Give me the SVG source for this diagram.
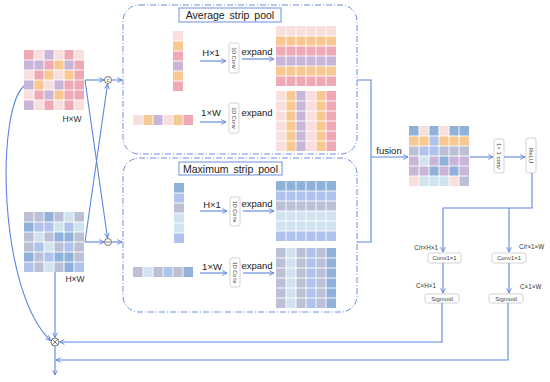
<svg xmlns="http://www.w3.org/2000/svg" xmlns:xlink="http://www.w3.org/1999/xlink" width="550" height="382" viewBox="0 0 550 382">
<style>
.p1{fill:#efa9b5}.p2{fill:#f9dede}.pu{fill:#c9b5d8}.or{fill:#f7c891}
.g{fill:#bcc0d6}.m{fill:#90b2da}.l{fill:#d0e4ef}.b{fill:#b0c3ec}
.wl{fill:none;stroke:#fff;stroke-width:0.9}
.cn{fill:none;stroke:#5b84e0;stroke-width:1.1}
.box{fill:none;stroke:#6b8fe0;stroke-width:1;stroke-dasharray:6 2 1 2}
.ttl{fill:#fff;stroke:#6b8fe0;stroke-width:1}
.sb{fill:#fff;stroke:#c8c8c8;stroke-width:0.8}
text{font-family:"Liberation Sans",Arial,sans-serif;fill:#222}
.t11{font-size:10.5px;word-spacing:2px;text-anchor:middle}
.t9{font-size:9.5px;text-anchor:middle}
.t8{font-size:8.5px;text-anchor:middle;fill:#333}
.t6{font-size:6px;text-anchor:middle;fill:#444}
.t65{font-size:6.3px;fill:#333}
.t55{font-size:5.5px;text-anchor:middle;fill:#444}
.op{fill:#fff;stroke:#555;stroke-width:0.8}
</style>
<defs>
<marker id="a" viewBox="0 0 10 10" refX="9" refY="5" markerWidth="6" markerHeight="6" orient="auto" markerUnits="userSpaceOnUse">
<path d="M1,1 L9,5 L1,9" fill="none" stroke="#5b84e0" stroke-width="1.5"/>
</marker>
<path id="gl" class="wl" d="M10,0V60M20,0V60M30,0V60M40,0V60M50,0V60M0,10H60M0,20H60M0,30H60M0,40H60M0,50H60"/>
<path id="vl" class="wl" d="M0,10H10M0,20H10M0,30H10M0,40H10M0,50H10"/>
<path id="hl" class="wl" d="M10,0V10M20,0V10M30,0V10M40,0V10M50,0V10"/>
</defs>

<g id="input-top" transform="translate(24,50)">
<rect x="0" y="0" width="10" height="10" class="p1"/><rect x="10" y="0" width="10" height="10" class="p2"/><rect x="20" y="0" width="10" height="10" class="pu"/><rect x="30" y="0" width="10" height="10" class="p2"/><rect x="40" y="0" width="10" height="10" class="p1"/><rect x="50" y="0" width="10" height="10" class="p2"/>
<rect x="0" y="10" width="10" height="10" class="pu"/><rect x="10" y="10" width="10" height="10" class="pu"/><rect x="20" y="10" width="10" height="10" class="p1"/><rect x="30" y="10" width="10" height="10" class="or"/><rect x="40" y="10" width="10" height="10" class="pu"/><rect x="50" y="10" width="10" height="10" class="p1"/>
<rect x="0" y="20" width="10" height="10" class="p2"/><rect x="10" y="20" width="10" height="10" class="p1"/><rect x="20" y="20" width="10" height="10" class="or"/><rect x="30" y="20" width="10" height="10" class="p2"/><rect x="40" y="20" width="10" height="10" class="or"/><rect x="50" y="20" width="10" height="10" class="p1"/>
<rect x="0" y="30" width="10" height="10" class="pu"/><rect x="10" y="30" width="10" height="10" class="or"/><rect x="20" y="30" width="10" height="10" class="p2"/><rect x="30" y="30" width="10" height="10" class="pu"/><rect x="40" y="30" width="10" height="10" class="p1"/><rect x="50" y="30" width="10" height="10" class="p1"/>
<rect x="0" y="40" width="10" height="10" class="p2"/><rect x="10" y="40" width="10" height="10" class="p1"/><rect x="20" y="40" width="10" height="10" class="pu"/><rect x="30" y="40" width="10" height="10" class="or"/><rect x="40" y="40" width="10" height="10" class="p1"/><rect x="50" y="40" width="10" height="10" class="p1"/>
<rect x="0" y="50" width="10" height="10" class="pu"/><rect x="10" y="50" width="10" height="10" class="p2"/><rect x="20" y="50" width="10" height="10" class="p1"/><rect x="30" y="50" width="10" height="10" class="p2"/><rect x="40" y="50" width="10" height="10" class="p1"/><rect x="50" y="50" width="10" height="10" class="p2"/>
<use href="#gl"/>
<text class="t8" x="48" y="72">H×W</text>
</g>

<g id="input-bottom" transform="translate(24,212)">
<rect x="0" y="0" width="10" height="10" class="g"/><rect x="10" y="0" width="10" height="10" class="g"/><rect x="20" y="0" width="10" height="10" class="m"/><rect x="30" y="0" width="10" height="10" class="g"/><rect x="40" y="0" width="10" height="10" class="l"/><rect x="50" y="0" width="10" height="10" class="g"/>
<rect x="0" y="10" width="10" height="10" class="m"/><rect x="10" y="10" width="10" height="10" class="b"/><rect x="20" y="10" width="10" height="10" class="b"/><rect x="30" y="10" width="10" height="10" class="l"/><rect x="40" y="10" width="10" height="10" class="b"/><rect x="50" y="10" width="10" height="10" class="l"/>
<rect x="0" y="20" width="10" height="10" class="g"/><rect x="10" y="20" width="10" height="10" class="l"/><rect x="20" y="20" width="10" height="10" class="g"/><rect x="30" y="20" width="10" height="10" class="m"/><rect x="40" y="20" width="10" height="10" class="m"/><rect x="50" y="20" width="10" height="10" class="g"/>
<rect x="0" y="30" width="10" height="10" class="g"/><rect x="10" y="30" width="10" height="10" class="b"/><rect x="20" y="30" width="10" height="10" class="l"/><rect x="30" y="30" width="10" height="10" class="g"/><rect x="40" y="30" width="10" height="10" class="b"/><rect x="50" y="30" width="10" height="10" class="g"/>
<rect x="0" y="40" width="10" height="10" class="m"/><rect x="10" y="40" width="10" height="10" class="g"/><rect x="20" y="40" width="10" height="10" class="b"/><rect x="30" y="40" width="10" height="10" class="m"/><rect x="40" y="40" width="10" height="10" class="m"/><rect x="50" y="40" width="10" height="10" class="g"/>
<rect x="0" y="50" width="10" height="10" class="b"/><rect x="10" y="50" width="10" height="10" class="g"/><rect x="20" y="50" width="10" height="10" class="l"/><rect x="30" y="50" width="10" height="10" class="g"/><rect x="40" y="50" width="10" height="10" class="m"/><rect x="50" y="50" width="10" height="10" class="b"/>
<use href="#gl"/>
<text class="t8" x="51" y="70">H×W</text>
</g>

<g id="avg-pool">
<rect class="box" x="123" y="5" width="234" height="149" rx="16"/>
<rect class="ttl" x="179" y="8" width="102" height="14"/>
<text class="t11" x="230" y="19">Average strip pool</text>
<g transform="translate(173,31)">
<rect x="0" y="0" width="10" height="10" class="p2"/><rect x="0" y="10" width="10" height="10" class="or"/><rect x="0" y="20" width="10" height="10" class="p1"/><rect x="0" y="30" width="10" height="10" class="pu"/><rect x="0" y="40" width="10" height="10" class="or"/><rect x="0" y="50" width="10" height="10" class="p1"/>
<use href="#vl"/>
</g>
<g transform="translate(133,115)">
<rect x="0" y="0" width="10" height="10" class="p2"/><rect x="10" y="0" width="10" height="10" class="or"/><rect x="20" y="0" width="10" height="10" class="pu"/><rect x="30" y="0" width="10" height="10" class="p2"/><rect x="40" y="0" width="10" height="10" class="or"/><rect x="50" y="0" width="10" height="10" class="p1"/>
<use href="#hl"/>
</g>
<text class="t9" x="211" y="56">H×1</text>
<text class="t9" x="211" y="116">1×W</text>
<rect class="sb" x="229" y="43" width="10" height="30" rx="2"/>
<text class="t55" transform="translate(232.2,58) rotate(90)">1D Conv</text>
<rect class="sb" x="229" y="103" width="10" height="30" rx="2"/>
<text class="t55" transform="translate(232.2,118) rotate(90)">1D Conv</text>
<text class="t9" x="257" y="55">expand</text>
<text class="t9" x="257" y="116">expand</text>
<g transform="translate(276,26)">
<rect x="0" y="0" width="60" height="10" class="p2"/><rect x="0" y="10" width="60" height="10" class="or"/><rect x="0" y="20" width="60" height="10" class="p1"/><rect x="0" y="30" width="60" height="10" class="pu"/><rect x="0" y="40" width="60" height="10" class="or"/><rect x="0" y="50" width="60" height="10" class="p1"/>
<use href="#gl"/>
</g>
<g transform="translate(276,91)">
<rect x="0" y="0" width="10" height="60" class="p2"/><rect x="10" y="0" width="10" height="60" class="or"/><rect x="20" y="0" width="10" height="60" class="pu"/><rect x="30" y="0" width="10" height="60" class="p2"/><rect x="40" y="0" width="10" height="60" class="or"/><rect x="50" y="0" width="10" height="60" class="p1"/>
<use href="#gl"/>
</g>
</g>

<g id="max-pool">
<rect class="box" x="123" y="158" width="234" height="154" rx="16"/>
<rect class="ttl" x="179" y="162" width="103" height="13"/>
<text class="t11" x="230.5" y="172.5">Maximum strip pool</text>
<g transform="translate(174,183)">
<rect x="0" y="0" width="10" height="10" class="m"/><rect x="0" y="10" width="10" height="10" class="b"/><rect x="0" y="20" width="10" height="10" class="g"/><rect x="0" y="30" width="10" height="10" class="l"/><rect x="0" y="40" width="10" height="10" class="l"/><rect x="0" y="50" width="10" height="10" class="b"/>
<use href="#vl"/>
</g>
<g transform="translate(133,267)">
<rect x="0" y="0" width="10" height="10" class="g"/><rect x="10" y="0" width="10" height="10" class="l"/><rect x="20" y="0" width="10" height="10" class="g"/><rect x="30" y="0" width="10" height="10" class="b"/><rect x="40" y="0" width="10" height="10" class="g"/><rect x="50" y="0" width="10" height="10" class="m"/>
<use href="#hl"/>
</g>
<text class="t9" x="212" y="208">H×1</text>
<text class="t9" x="212" y="270">1×W</text>
<rect class="sb" x="230" y="197" width="10" height="29" rx="2"/>
<text class="t55" transform="translate(233.2,211.5) rotate(90)">1D Conv</text>
<rect class="sb" x="230" y="258" width="10" height="29" rx="2"/>
<text class="t55" transform="translate(233.2,272.5) rotate(90)">1D Conv</text>
<text class="t9" x="257" y="207">expand</text>
<text class="t9" x="257" y="269">expand</text>
<g transform="translate(276,181)">
<rect x="0" y="0" width="60" height="10" class="m"/><rect x="0" y="10" width="60" height="10" class="b"/><rect x="0" y="20" width="60" height="10" class="g"/><rect x="0" y="30" width="60" height="10" class="l"/><rect x="0" y="40" width="60" height="10" class="l"/><rect x="0" y="50" width="60" height="10" class="b"/>
<use href="#gl"/>
</g>
<g transform="translate(276,248)">
<rect x="0" y="0" width="10" height="60" class="g"/><rect x="10" y="0" width="10" height="60" class="l"/><rect x="20" y="0" width="10" height="60" class="g"/><rect x="30" y="0" width="10" height="60" class="b"/><rect x="40" y="0" width="10" height="60" class="g"/><rect x="50" y="0" width="10" height="60" class="m"/>
<use href="#gl"/>
</g>
</g>

<g id="fusion-map" transform="translate(409,126)">
<rect x="0" y="0" width="10" height="10" class="m"/><rect x="10" y="0" width="10" height="10" class="p2"/><rect x="20" y="0" width="10" height="10" class="m"/><rect x="30" y="0" width="10" height="10" class="p2"/><rect x="40" y="0" width="10" height="10" class="m"/><rect x="50" y="0" width="10" height="10" class="m"/>
<rect x="0" y="10" width="10" height="10" class="or"/><rect x="10" y="10" width="10" height="10" class="or"/><rect x="20" y="10" width="10" height="10" class="b"/><rect x="30" y="10" width="10" height="10" class="or"/><rect x="40" y="10" width="10" height="10" class="or"/><rect x="50" y="10" width="10" height="10" class="or"/>
<rect x="0" y="20" width="10" height="10" class="g"/><rect x="10" y="20" width="10" height="10" class="b"/><rect x="20" y="20" width="10" height="10" class="b"/><rect x="30" y="20" width="10" height="10" class="g"/><rect x="40" y="20" width="10" height="10" class="g"/><rect x="50" y="20" width="10" height="10" class="g"/>
<rect x="0" y="30" width="10" height="10" class="pu"/><rect x="10" y="30" width="10" height="10" class="l"/><rect x="20" y="30" width="10" height="10" class="pu"/><rect x="30" y="30" width="10" height="10" class="m"/><rect x="40" y="30" width="10" height="10" class="pu"/><rect x="50" y="30" width="10" height="10" class="pu"/>
<rect x="0" y="40" width="10" height="10" class="pu"/><rect x="10" y="40" width="10" height="10" class="pu"/><rect x="20" y="40" width="10" height="10" class="m"/><rect x="30" y="40" width="10" height="10" class="pu"/><rect x="40" y="40" width="10" height="10" class="m"/><rect x="50" y="40" width="10" height="10" class="pu"/>
<rect x="0" y="50" width="10" height="10" class="p2"/><rect x="10" y="50" width="10" height="10" class="l"/><rect x="20" y="50" width="10" height="10" class="l"/><rect x="30" y="50" width="10" height="10" class="l"/><rect x="40" y="50" width="10" height="10" class="p2"/><rect x="50" y="50" width="10" height="10" class="g"/>
<use href="#gl"/>
</g>

<g id="conv1x1">
<rect class="sb" x="494" y="139" width="10" height="34" rx="2"/>
<text class="t6" transform="translate(497,156) rotate(90)">1× 1 conv</text>
</g>
<g id="relu">
<rect class="sb" x="526" y="138" width="10" height="35" rx="2"/>
<text class="t6" transform="translate(529,155.5) rotate(90)">ReLU</text>
</g>
<g id="conv-h">
<rect class="sb" x="428" y="253" width="33" height="10" rx="2"/>
<text class="t6" x="444.5" y="260.2">Conv1×1</text>
</g>
<g id="conv-w">
<rect class="sb" x="492" y="253" width="34" height="10" rx="2"/>
<text class="t6" x="509" y="260.2">Conv1×1</text>
</g>
<g id="sig-h">
<rect class="sb" x="425" y="294" width="34" height="9" rx="2"/>
<text class="t6" x="442" y="300.7">Sigmoid</text>
</g>
<g id="sig-w">
<rect class="sb" x="489" y="294" width="34" height="9" rx="2"/>
<text class="t6" x="506" y="300.7">Sigmoid</text>
</g>

<g id="labels">
<text class="t9" x="389" y="154">fusion</text>
<text class="t65" x="438" y="250" text-anchor="end">C/r×H×1</text>
<text class="t65" x="519" y="249">C/r×1×W</text>
<text class="t65" x="436" y="288" text-anchor="end">C×H×1</text>
<text class="t65" x="520" y="289">C×1×W</text>
</g>

<g id="ops">
<circle class="op" cx="108" cy="80" r="3.5"/>
<text x="108" y="82" style="font-size:5.5px;text-anchor:middle;fill:#444">c</text>
<circle class="op" cx="108" cy="242" r="3.5"/>
<path d="M105.5,242H110.5" stroke="#555" stroke-width="0.8"/>
<circle class="op" cx="55" cy="342" r="4"/>
<path d="M52.2,339.2L57.8,344.8M57.8,339.2L52.2,344.8" stroke="#555" stroke-width="0.8"/>
</g>

<g id="connectors">
<path class="cn" d="M85,80H104" marker-end="url(#a)"/>
<path class="cn" d="M111.5,80H122" marker-end="url(#a)"/>
<path class="cn" d="M85,80L107.5,238" marker-end="url(#a)"/>
<path class="cn" d="M85,242H104" marker-end="url(#a)"/>
<path class="cn" d="M85,242L107.5,84" marker-end="url(#a)"/>
<path class="cn" d="M111.5,242H122" marker-end="url(#a)"/>
<path class="cn" d="M357,80H371V242H357"/>
<path class="cn" d="M371,157H408" marker-end="url(#a)"/>
<path class="cn" d="M200,61H226" marker-end="url(#a)"/>
<path class="cn" d="M242,59H274" marker-end="url(#a)"/>
<path class="cn" d="M200,122H226" marker-end="url(#a)"/>
<path class="cn" d="M200,211H227" marker-end="url(#a)"/>
<path class="cn" d="M243,211H274" marker-end="url(#a)"/>
<path class="cn" d="M200,273H227" marker-end="url(#a)"/>
<path class="cn" d="M243,273H274" marker-end="url(#a)"/>
<path class="cn" d="M470,157H493" marker-end="url(#a)"/>
<path class="cn" d="M504,157H525" marker-end="url(#a)"/>
<path class="cn" d="M532,173V208H443V252" marker-end="url(#a)"/>
<path class="cn" d="M509,208V252" marker-end="url(#a)"/>
<path class="cn" d="M443,263V293" marker-end="url(#a)"/>
<path class="cn" d="M509,263V293" marker-end="url(#a)"/>
<path class="cn" d="M442,303V342H59.5" marker-end="url(#a)"/>
<path class="cn" d="M508,303V360H56" marker-end="url(#a)"/>
<path class="cn" d="M55,272V337.5" marker-end="url(#a)"/>
<path class="cn" d="M55,346V375" marker-end="url(#a)"/>
<path class="cn" d="M24,86C-4,110 -2,290 50.5,340.5" marker-end="url(#a)"/>
</g>
</svg>
